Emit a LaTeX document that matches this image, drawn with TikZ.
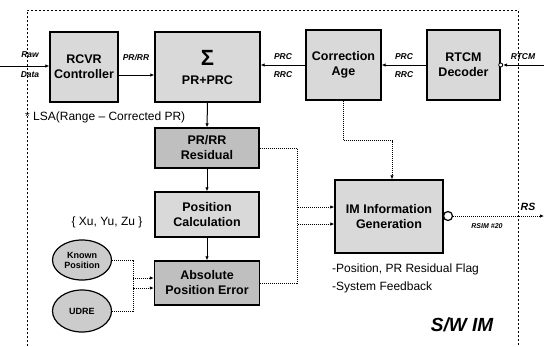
\documentclass[tikz,border=0pt]{standalone}
\usepackage{fontspec}
\setmainfont{Liberation Sans}
\usepackage{tikz}
\usetikzlibrary{positioning,shapes.geometric,arrows.meta,calc}

\begin{document}
\begin{tikzpicture}[x=1pt,y=-1pt,
  blockbox/.style={draw, line width=1.4pt, fill=gray!30, align=center, inner sep=1pt,
    font=\bfseries\fontsize{12.5}{15}\selectfont},
  darkbox/.style={blockbox, fill=gray!50},
  refell/.style={draw, line width=1.2pt, ellipse, fill=gray!40, inner sep=0pt, align=center,
    font=\bfseries\fontsize{9}{10}\selectfont},
  sigfont/.style={font=\bfseries\itshape\fontsize{8.5}{10}\selectfont},
  notefont/.style={font=\fontsize{12}{14}\selectfont},
  flowline/.style={line width=1pt, -{Latex[length=4pt,width=3.5pt]}},
  dotline/.style={line width=1pt, densely dotted, -{Latex[length=4pt,width=3.5pt]}}]
\useasboundingbox (0,0) rectangle (544,346);
% frame of the software block
\draw[line width=0.7pt, dash pattern=on 2pt off 2pt] (27,346) -- (27,10) -- (518,10) -- (518,346);
% blocks
\node[blockbox, minimum width=68pt, minimum height=70pt] (rcvr) at (84,67) {RCVR\\Controller};
\node[blockbox, minimum width=105pt, minimum height=70pt] (sum) at (207.5,67)
  {{\fontsize{22}{22}\selectfont Σ}\\[4pt]PR+PRC};
\node[blockbox, minimum width=75pt, minimum height=70pt] (corr) at (343.5,65) {Correction\\Age};
\node[blockbox, minimum width=73pt, minimum height=70pt] (rtcm) at (463.5,65) {RTCM\\Decoder};
\node[darkbox, minimum width=104pt, minimum height=40pt] (resid) at (207,148) {PR/RR\\Residual};
\node[blockbox, minimum width=104pt, minimum height=45pt] (poscalc) at (207,214.5) {Position\\Calculation};
\node[darkbox, minimum width=105pt, minimum height=44pt] (ape) at (207,283) {Absolute\\Position Error};
\node[blockbox, minimum width=108pt, minimum height=73pt] (imgen) at (389,216.5) {IM Information\\Generation};
\node[refell, minimum width=59pt, minimum height=40pt] (known) at (82,260) {Known\\Position};
\node[refell, minimum width=59pt, minimum height=42pt] (udre) at (82,311) {UDRE};
\node[draw, circle, line width=1.2pt, fill=white, minimum size=9pt, inner sep=0pt] (rsout) at (448,216) {};
\node[draw, circle, line width=0.8pt, fill=white, minimum size=4pt, inner sep=0pt] (rtcmport) at (rtcm.east) {};
% free ends
\coordinate (rawin) at (0,66);
\coordinate (rtcmin) at (544,65);
\coordinate (rsend) at (544,216);
% main flow
\draw[flowline] (rawin) -- (rawin -| rcvr.west);
\draw[flowline] ([yshift=-8pt]rcvr.east) -- ([yshift=-8pt]rcvr.east -| sum.west);
\draw[flowline] (corr.west) -- (corr.west -| sum.east);
\draw[flowline] (rtcm.west) -- (corr.east);
\draw[flowline] (rtcmin) -- (rtcmport);
\draw[flowline] (sum.south) -- (resid.north);
\draw[flowline] (resid.south) -- (poscalc.north);
\draw[flowline] (poscalc.south) -- (ape.north);
% dotted links
\draw[dotline] (corr.south) -- ++(0,40) -| ([xshift=3pt]imgen.north);
\draw[dotline] (resid.east) -- (297,148) |- ([yshift=-7.5pt]imgen.west);
\draw[dotline] (ape.east) -- (297,283) |- ([yshift=9.5pt]imgen.west);
\draw[dotline] (known.east) -- (133,260) |- ([yshift=-5pt]ape.west);
\draw[dotline] (udre.east) -- (133,311) |- ([yshift=5pt]ape.west);
\draw[dotline] (rsout) -- (rsend);
% signal labels
\node[sigfont] (rawlbl) at (30,55) {Raw};
\node[sigfont] (datalbl) at (30,75) {Data};
\node[sigfont] (prrrlbl) at (136,58) {PR/RR};
\node[sigfont] (prcA) at (283,57) {PRC};
\node[sigfont] (rrcA) at (283,75) {RRC};
\node[sigfont] (prcB) at (404,57) {PRC};
\node[sigfont] (rrcB) at (404,75) {RRC};
\node[sigfont] (rtcmlbl) at (523,57) {RTCM};
\node[font=\bfseries\itshape\fontsize{10.5}{12}\selectfont] (rslbl) at (528,207) {RS};
\node[font=\bfseries\itshape\fontsize{7}{8}\selectfont] (rsimlbl) at (487,226) {RSIM \#20};
% notes
\node[notefont, anchor=west, inner sep=0pt] (lsanote) at (25,117) {* LSA(Range -- Corrected PR)};
\node[notefont] (xyznote) at (107,222) {\{ Xu, Yu, Zu \}};
\node[notefont, anchor=west, inner sep=0pt] (flagnote) at (332,269) {-Position, PR Residual Flag};
\node[notefont, anchor=west, inner sep=0pt] (fbnote) at (332,287) {-System Feedback};
\node[font=\bfseries\itshape\fontsize{19}{22}\selectfont] (swim) at (462,325) {S/W IM};
\end{tikzpicture}
\end{document}
